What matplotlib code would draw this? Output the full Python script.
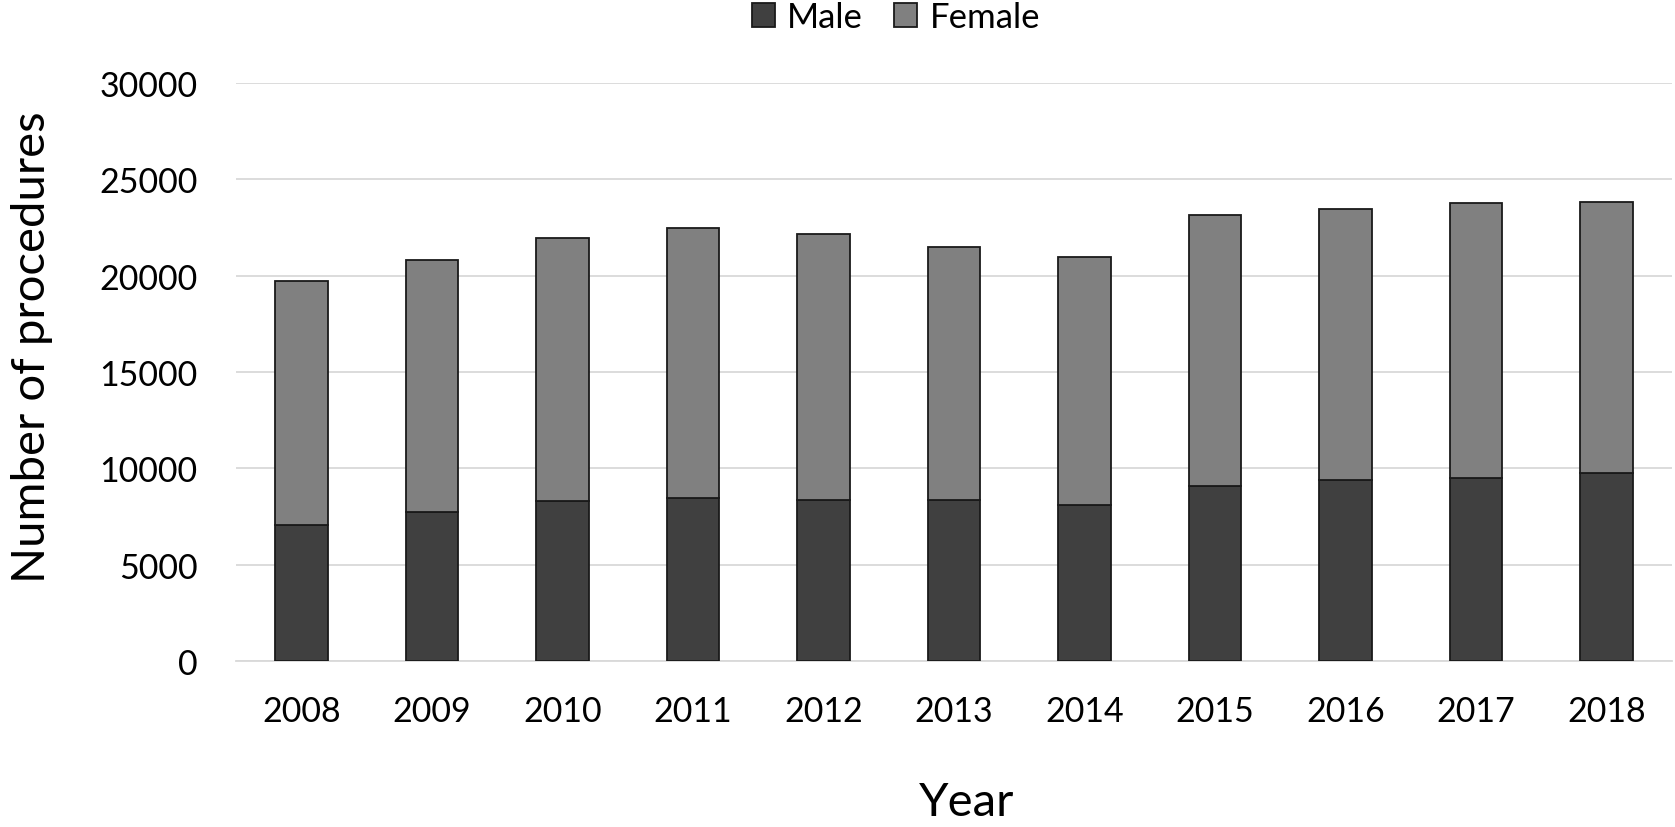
import numpy as np
import matplotlib.pyplot as plt

plt.rcParams['font.family'] = ['Lato', 'DejaVu Sans']

# donnees
annees = ['2008', '2009', '2010', '2011', '2012', '2013', '2014', '2015', '2016', '2017', '2018']
total = [19700, 20830, 21950, 22460, 22140, 21480, 20980, 23150, 23450, 23780, 23800]
homme = [7050, 7740, 8310, 8450, 8380, 8380, 8120, 9090, 9420, 9500, 9740]
femme = [t - h for t, h in zip(total, homme)]

x = np.arange(len(annees))

fig = plt.figure(figsize=(16.75, 8.28), dpi=100)
ax = fig.add_axes([0.141, 0.2, 0.857, 0.699])

ax.bar(x, homme, 0.403, color='#404040', edgecolor='#1a1a1a', linewidth=1.3, label='Male', zorder=3)
ax.bar(x, femme, 0.403, bottom=homme, color='#808080', edgecolor='#1a1a1a', linewidth=1.3,
       label='Female', zorder=3)

ax.set_ylim(0, 30000)
ax.set_xlim(-0.5, len(annees) - 0.5)
ax.set_yticks(range(0, 30001, 5000))
ax.set_xticks(x)
ax.set_xticklabels(annees)
ax.tick_params(axis='both', length=0, labelsize=24.5, colors='black')
ax.tick_params(axis='y', pad=28)
ax.tick_params(axis='x', pad=24)

ax.grid(axis='y', color='#d9d9d9', linewidth=1.3, zorder=0)
for s in ['top', 'right', 'left']:
    ax.spines[s].set_visible(False)
ax.spines['bottom'].set_color('#d9d9d9')
ax.spines['bottom'].set_linewidth(1.3)

fig.text(0.019, 0.581, 'Number of procedures', rotation=90, fontsize=34, ha='center', va='center')
fig.text(0.577, 0.03, 'Year', fontsize=34, ha='center', va='center')

fig.legend(loc='center', bbox_to_anchor=(0.535, 0.978), ncol=2, frameon=False,
           fontsize=25, handlelength=0.66, handleheight=0.66, columnspacing=0.9,
           handletextpad=0.35, borderpad=0)

plt.savefig('out.png', dpi=100)
